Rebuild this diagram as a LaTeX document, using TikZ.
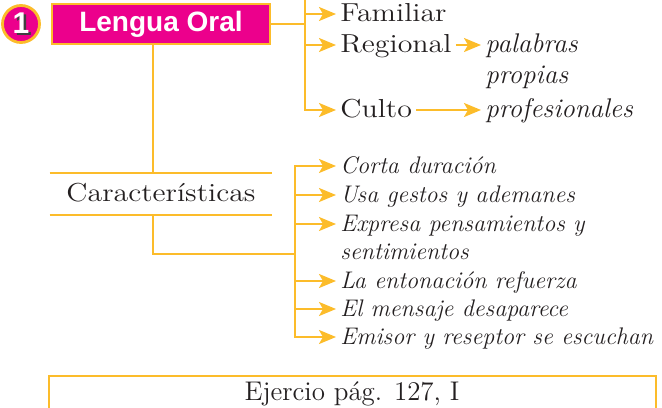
\documentclass[tikz,border=0pt]{standalone}
\usepackage{fontspec}
\setmainfont{Latin Modern Roman}[FakeStretch=1.15]
\newfontfamily\plainfont{Latin Modern Roman}
\newfontfamily\headfont{Liberation Sans}
\usetikzlibrary{arrows.meta}
\definecolor{oralpink}{RGB}{236,0,140}
\definecolor{oralgold}{RGB}{252,188,42}
\definecolor{oralink}{RGB}{35,31,32}
\newcommand{\shadednum}[1]{\makebox[0pt][l]{\kern1.2pt\raisebox{-1pt}{\color{black!75}#1}}#1}
\newcommand{\textsz}{\fontsize{13}{15.6}\selectfont}
\tikzset{
  goldline/.style={draw=oralgold,line width=1.1pt},
  elbow/.style={to path={|- (\tikztotarget)}},
  headbox/.style={fill=oralpink,draw=oralgold,line width=1pt,text=white,
                  font={\headfont\bfseries\fontsize{14}{14}\selectfont}},
  item/.style={inner xsep=2pt,inner ysep=0pt,text height=9pt,text depth=2pt,
               anchor=base west,font=\textsz},
  emph item/.style={item,font=\plainfont\fontsize{12}{14.4}\selectfont\itshape},
  big emph item/.style={item,font=\plainfont\fontsize{13.5}{16}\selectfont\itshape}
}
\begin{document}
\begin{tikzpicture}[x=0.5pt,y=-0.5pt,font=\textsz,text=oralink,
                    >={Stealth[length=8.5pt,width=7pt,inset=2pt]}]
\useasboundingbox (0,0) rectangle (662,407);

\node[headbox,circle,minimum size=18.5pt,inner sep=0pt,line width=1.4pt,
      font={\headfont\bfseries\fontsize{15}{15}\selectfont}] (num) at (21,24) {\shadednum{1}};
\node[headbox,minimum width=109pt,minimum height=19pt] (lo) at (161,24) {Lengua Oral};
\node[minimum width=111pt,minimum height=20.5pt,inner sep=0pt,
      text height=9pt,text depth=2pt] (car) at (161,194) {Características};
\node[anchor=base,inner ysep=3pt,text height=9pt,text depth=2pt,
      font=\plainfont\fontsize{13.5}{16}\selectfont] (ej) at (352,400) {Ejercio pág. 127, I};

\begin{scope}[every node/.style={item}]
    \node (fam) at (336,21) {Familiar};
    \node (reg) at (336,52) {Regional};
    \node[big emph item] (pal) at (481,52) {palabras};
    \node[big emph item] (pro) at (481,83) {propias};
    \node (cul) at (336,117) {Culto};
    \node[big emph item] (pfs) at (481,117) {profesionales};
\end{scope}

\begin{scope}[every node/.style={emph item}]
    \node (cor) at (336,173) {Corta duración};
    \node (usa) at (336,202) {Usa gestos y ademanes};
    \node (exp) at (336,231) {Expresa pensamientos y};
    \node (sen) at (336,259) {sentimientos};
    \node (ent) at (336,288) {La entonación refuerza};
    \node (msj) at (336,316) {El mensaje desaparece};
    \node (emi) at (336,344) {Emisor y reseptor se escuchan};
\end{scope}

\coordinate (b1) at (305,24);
\coordinate (btop) at (305,-4);
\coordinate (d) at (153,0);
\coordinate (k) at (295,254);
\coordinate (bl) at (49,412);
\coordinate (br) at (656,412);

\begin{scope}[every edge/.style={goldline}]
    \path [-] (lo.east) edge (b1);
    \path [-] (b1) edge (btop);
    \path [->] (b1) edge[elbow] (fam.west);
    \path [->] (b1) edge[elbow] (reg.west);
    \path [->] (b1) edge[elbow] (cul.west);
    \path [->] (reg) edge (pal);
    \path [->] (cul) edge (pfs);
    \path [-] (lo.south -| d) edge (car.north -| d);
    \path [-] (car.north west) edge (car.north east);
    \path [-] (car.south west) edge (car.south east);
    \path [-] (car.south -| d) edge[elbow] (k);
    \path [->] (k) edge[elbow] (cor.west);
    \path [->] (k) edge[elbow] (usa.west);
    \path [->] (k) edge[elbow] (exp.west);
    \path [->] (k) edge[elbow] (ent.west);
    \path [->] (k) edge[elbow] (msj.west);
    \path [->] (k) edge[elbow] (emi.west);
\end{scope}
\draw[goldline] (bl) |- (ej.north) -| (br);
\end{tikzpicture}
\end{document}
